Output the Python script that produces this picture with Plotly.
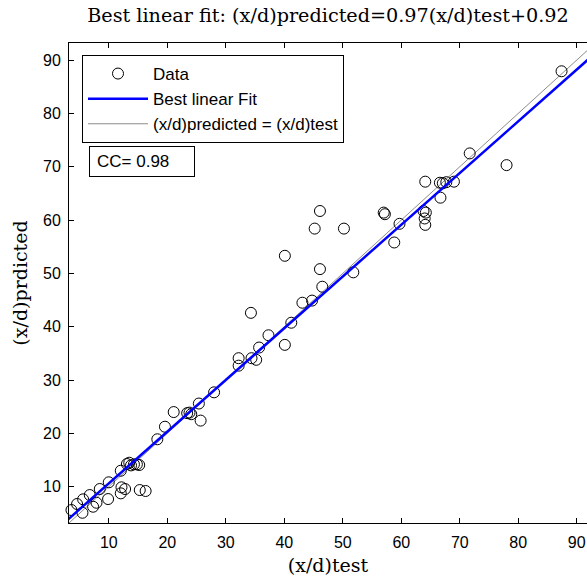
import plotly.graph_objects as go

# Data
x_test = [3.04, 3.62, 4.58, 5.50, 5.61, 6.75, 7.32, 7.90, 8.46, 9.88,
          10.0, 12.05, 12.05, 12.17, 12.79, 13.1, 13.5, 13.8, 14.3, 14.8,
          15.2, 15.3, 16.3, 18.3, 19.6, 21.1, 23.4, 23.8, 24.1, 25.7,
          25.4, 28.0, 32.2, 32.2, 34.4, 35.2, 35.7, 37.3, 34.3, 40.1,
          41.2, 43.1, 44.75, 46.5, 46.1, 40.1, 51.8, 46.1, 45.2, 50.2,
          57.0, 57.2, 59.7, 58.8, 63.8, 64.2, 64.0, 64.1, 66.6, 67.1,
          67.7, 69.0, 64.1, 66.7, 71.7, 78.0, 87.4, 92.6]
y_pred = [3.89, 5.63, 6.76, 5.12, 7.64, 8.44, 6.25, 7.0, 9.57, 7.69,
          10.83, 13.0, 8.76, 9.89, 9.57, 14.26, 14.5, 14.0, 14.2, 14.2,
          14.07, 9.38, 9.2, 18.9, 21.25, 24.0, 23.8, 23.9, 23.6, 22.4,
          25.6, 27.7, 34.1, 32.7, 34.1, 33.8, 36.1, 38.4, 42.6, 36.6,
          40.75, 44.5, 44.9, 47.5, 50.8, 53.3, 50.2, 61.7, 58.4, 58.4,
          61.4, 61.1, 59.3, 55.8, 61.7, 61.4, 60.3, 59.1, 67.0, 66.9,
          67.1, 67.2, 67.2, 64.2, 72.5, 70.3, 87.9, 75.6]

fit_slope = 0.97
fit_intercept = 0.92
cc_value = 0.98
tick_values = [10, 20, 30, 40, 50, 60, 70, 80, 90]

line_x = [min(x_test), max(x_test)]
fit_y = [fit_slope * v + fit_intercept for v in line_x]

SERIF = "DejaVu Serif"
SANS = "Liberation Sans, Arial, sans-serif"

fig = go.Figure()
fig.add_trace(go.Scatter(
    x=line_x, y=line_x, mode="lines", name="(x/d)predicted = (x/d)test",
    line=dict(color="#8c8c8c", width=1), legendrank=3))
fig.add_trace(go.Scatter(
    x=x_test, y=y_pred, mode="markers", name="Data",
    marker=dict(symbol="circle-open", size=11, color="black",
                line=dict(color="black", width=1)),
    cliponaxis=False, legendrank=1))
fig.add_trace(go.Scatter(
    x=line_x, y=fit_y, mode="lines", name="Best linear Fit",
    line=dict(color="#0000ff", width=2.5), legendrank=2))

fig.update_layout(
    width=587, height=576,
    margin=dict(l=69, r=0, t=43, b=53, autoexpand=False),
    paper_bgcolor="white", plot_bgcolor="white",
    font=dict(family=SANS, size=16, color="black"),
    title=dict(text=f"Best linear fit: (x/d)predicted={fit_slope}(x/d)test+{fit_intercept}",
               font=dict(family=SERIF, size=19.2, color="black"),
               x=0.5, xref="paper", xanchor="center",
               y=1 - 15 / 576, yref="container", yanchor="middle"),
    showlegend=True,
    legend=dict(x=(82 - 69) / 518, y=(523 - 55) / 480, xanchor="left", yanchor="top",
                bgcolor="white", bordercolor="black", borderwidth=1,
                font=dict(family=SANS, size=17, color="black"),
                itemwidth=60, tracegroupgap=0),
    xaxis=dict(range=[3.2, 91.75], tickvals=tick_values, ticks="inside",
               ticklen=5, tickcolor="black", showline=True, linecolor="black",
               linewidth=1, mirror="ticks", showgrid=False, zeroline=False,
               automargin=False, ticklabelstandoff=5,
               tickfont=dict(family=SANS, size=16, color="black"),
               title=dict(text="(x/d)test", font=dict(family=SERIF, size=19),
                          standoff=8)),
    yaxis=dict(range=[3.2, 93.2], tickvals=tick_values, ticks="inside",
               ticklen=5, tickcolor="black", showline=True, linecolor="black",
               linewidth=1, mirror=False, showgrid=False, zeroline=False,
               automargin=False, ticklabelstandoff=4,
               tickfont=dict(family=SANS, size=16, color="black"),
               title=dict(text="(x/d)prdicted", font=dict(family=SERIF, size=19),
                          standoff=10)),
)

fig.add_annotation(
    text=f"CC= {cc_value}", xref="paper", yref="paper",
    x=(89 - 69) / 518, y=(523 - 146) / 480, xanchor="left", yanchor="top",
    showarrow=False, align="left", width=90, height=15, borderpad=7,
    bordercolor="black", borderwidth=1, bgcolor="white",
    font=dict(family=SANS, size=17, color="black"))

fig.write_html("out.html", config={"displayModeBar": False},
               post_script="document.body.style.margin='0';document.body.style.overflow='hidden';")
